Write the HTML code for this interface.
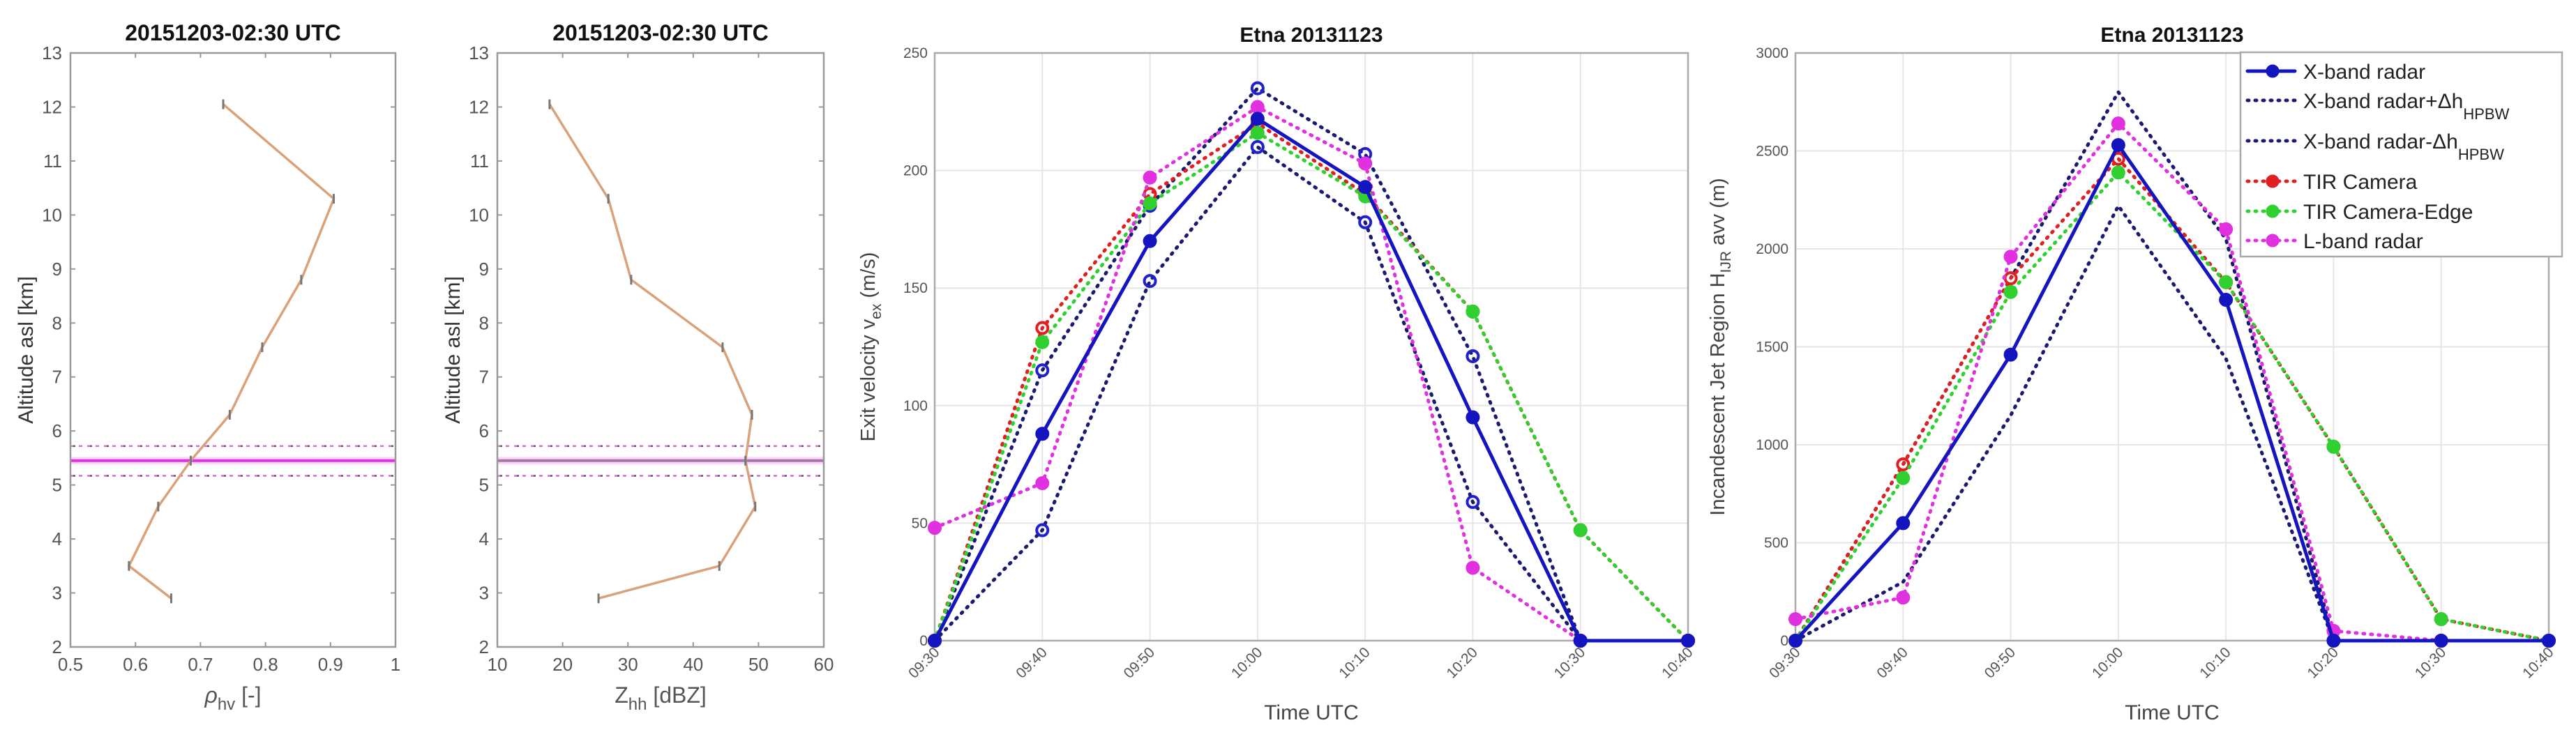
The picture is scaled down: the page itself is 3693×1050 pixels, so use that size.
<!DOCTYPE html>
<html><head><meta charset="utf-8"><style>
html,body{margin:0;padding:0;background:#fff;}
svg{display:block;font-family:"Liberation Sans",sans-serif;}
</style></head><body>
<svg id="fig" width="3693" height="1050" viewBox="0 0 3693 1050" xmlns="http://www.w3.org/2000/svg"></svg>
<script>
// Panel 1 & 2 profile data
const altitudes = [12.05, 10.3, 8.8, 7.55, 6.3, 5.45, 4.6, 3.5, 2.9];
const rhoValues = [0.735, 0.905, 0.855, 0.795, 0.745, 0.685, 0.635, 0.59, 0.655];
const zhhValues = [18, 27, 30.5, 44.5, 49, 48, 49.5, 44, 25.5];
const meltLayer = [5.45, 5.72, 5.17];
const altTicks = [2,3,4,5,6,7,8,9,10,11,12,13];
const rhoTicks = [0.5,0.6,0.7,0.8,0.9,1];
const rhoTickLabels = ["0.5","0.6","0.7","0.8","0.9","1"];
const zhhTicks = [10,20,30,40,50,60];
// Panel 3 & 4 time series
const timeLabels = ["09:30","09:40","09:50","10:00","10:10","10:20","10:30","10:40"];
const velXband = [0, 88, 170, 222, 193, 95, 0, 0];
const velXplus = [0, 115, 185, 235, 207, 121, 0, 0];
const velXminus = [0, 47, 153, 210, 178, 59, 0, 0];
const velTIR = [0, 133, 190, 220, 190, 140, 47, 0];
const velTIREdge = [0, 127, 186, 216, 189, 140, 47, 0];
const velLband = [48, 67, 197, 227, 203, 31, 0, 0];
const velTicks = [0,50,100,150,200,250];
const hXband = [0, 600, 1460, 2530, 1740, 0, 0, 0];
const hXplus = [0, 900, 1850, 2800, 2050, 0, 0, 0];
const hXminus = [0, 300, 1150, 2220, 1440, 0, 0, 0];
const hTIR = [0, 900, 1850, 2460, 1830, 990, 110, 0];
const hTIREdge = [0, 830, 1780, 2390, 1830, 990, 110, 0];
const hLband = [110, 220, 1960, 2640, 2100, 50, 0, 0];
const hTicks = [0,500,1000,1500,2000,2500,3000];

const NS = "http://www.w3.org/2000/svg";
const svg = document.getElementById('fig');
function mk(tag, attrs, parent, text){
  const e = document.createElementNS(NS, tag);
  for (const k in attrs) e.setAttribute(k, attrs[k]);
  if (text !== undefined) e.textContent = text;
  (parent || svg).appendChild(e);
  return e;
}
function lin(d0,d1,r0,r1){ return v => r0 + (v-d0)/(d1-d0)*(r1-r0); }

// ---------- Profile panels ----------
function profilePanel(name, x0, x1, dmin, dmax, ticks, tickLabels, vals, title, xlabelMain, xlabelSub, xlabelRest, meltColor){
  const g = mk('g', {});
  
  
  const yT = 76, yB = 928;
  const sx = lin(dmin, dmax, x0, x1);
  const sy = lin(2, 13, yB, yT);
  // melting layer lines
  const band = mk('rect', {x:x0, y:sy(meltLayer[0]+0.07), width:x1-x0, height:sy(meltLayer[0]-0.07)-sy(meltLayer[0]+0.07), fill:'#f9c8f5', opacity:0.7}, g);
  
  
  const ml = mk('line', {x1:x0, x2:x1, y1:sy(meltLayer[0]), y2:sy(meltLayer[0]), stroke:meltColor, 'stroke-width':4}, g);
  
  
  for (let i=1;i<meltLayer.length;i++){
    const d = mk('line', {x1:x0, x2:x1, y1:sy(meltLayer[i]), y2:sy(meltLayer[i]), stroke:'#d070d0', 'stroke-width':2.5, 'stroke-dasharray':'5 7'}, g);
    
    
    mk('line', {x1:x0+4, x2:x1, y1:sy(meltLayer[i]), y2:sy(meltLayer[i]), stroke:'#705070', 'stroke-width':2.5, 'stroke-dasharray':'3 21'}, g);
  }
  // profile
  let dstr = '';
  vals.forEach((v,i)=>{ dstr += (i?'L':'M') + sx(v).toFixed(1) + ' ' + sy(altitudes[i]).toFixed(1); });
  const p = mk('path', {d:dstr, fill:'none', stroke:'#d9a27a', 'stroke-width':3.5}, g);
  
  
  vals.forEach((v,i)=>{
    const t = mk('line', {x1:sx(v), x2:sx(v), y1:sy(altitudes[i])-7, y2:sy(altitudes[i])+7, stroke:'#777', 'stroke-width':3}, g);
    
    
  });
  // box
  const box = mk('rect', {x:x0, y:yT, width:x1-x0, height:yB-yT, fill:'none', stroke:'#999', 'stroke-width':2.5}, g);
  
  
  altTicks.forEach(a=>{
    mk('line', {x1:x0, x2:x0+7, y1:sy(a), y2:sy(a), stroke:'#999', 'stroke-width':2}, g);
    mk('line', {x1:x1, x2:x1-7, y1:sy(a), y2:sy(a), stroke:'#999', 'stroke-width':2}, g);
    const l = mk('text', {x:x0-12, y:sy(a)+9, 'text-anchor':'end', 'font-size':26, fill:'#555'}, g, String(a));
    
    
  });
  ticks.forEach((t,i)=>{
    mk('line', {x1:sx(t), x2:sx(t), y1:yB, y2:yB-7, stroke:'#999', 'stroke-width':2}, g);
    mk('line', {x1:sx(t), x2:sx(t), y1:yT, y2:yT+7, stroke:'#999', 'stroke-width':2}, g);
    const l = mk('text', {x:sx(t), y:962, 'text-anchor':'middle', 'font-size':26, fill:'#555'}, g, tickLabels[i]);
    
    
  });
  const ti = mk('text', {x:(x0+x1)/2, y:58, 'text-anchor':'middle', 'font-size':32, 'font-weight':'bold', fill:'#111'}, g, title);
  
  
  const yl = mk('text', {x:0, y:0, transform:`translate(${x0-54},${(yT+yB)/2}) rotate(-90)`, 'text-anchor':'middle', 'font-size':30, fill:'#333'}, g, 'Altitude asl [km]');
  
  
  const xl = mk('text', {x:(x0+x1)/2, y:1008, 'text-anchor':'middle', 'font-size':32, fill:'#555'}, g);
  
  
  mk('tspan', {'font-style': xlabelMain==='ρ'?'italic':'normal'}, xl, xlabelMain);
  mk('tspan', {'font-size':24, dy:10}, xl, xlabelSub);
  mk('tspan', {dy:-10}, xl, xlabelRest);
}
profilePanel('rhohv-profile-panel', 101, 567, 0.5, 1.0, rhoTicks, rhoTickLabels, rhoValues, '20151203-02:30 UTC', 'ρ', 'hv', ' [-]', '#e030e0');
profilePanel('zhh-profile-panel', 713, 1181, 10, 60, zhhTicks, zhhTicks.map(String), zhhValues, '20151203-02:30 UTC', 'Z', 'hh', ' [dBZ]', '#a878a8');

// ---------- Time series panels ----------
const styles = {
  xband:{color:'#1515c0', dash:null, width:5, fill:'#1515c0', r:8},
  xplus:{color:'#1a1a70', dash:'2 9', width:5, fill:'none', r:8, stroke2:'#2020d0'},
  xminus:{color:'#1a1a70', dash:'2 9', width:5, fill:'none', r:8, stroke2:'#2020d0'},
  tir:{color:'#e02020', dash:'2 9', width:5, fill:'none', r:8, stroke2:'#e02020'},
  edge:{color:'#30d030', dash:'2 9', width:5, fill:'#30d030', r:8},
  lband:{color:'#e030e0', dash:'2 9', width:5, fill:'#e030e0', r:8}
};
function tsPanel(name, x0, x1, ymax, ticks, series, ylabelParts, drawMarkersOnX){
  const g = mk('g', {});
  
  
  const yT = 76, yB = 919;
  const sx = lin(0, timeLabels.length-1, x0, x1);
  const sy = lin(0, ymax, yB, yT);
  mk('rect', {x:x0, y:yT, width:x1-x0, height:yB-yT, fill:'#fff'}, g);
  ticks.forEach(t=>{
    const gl = mk('line', {x1:x0, x2:x1, y1:sy(t), y2:sy(t), stroke:'#e6e6e6', 'stroke-width':2}, g);
    
    
    const l = mk('text', {x:x0-10, y:sy(t)+7, 'text-anchor':'end', 'font-size':21, fill:'#555'}, g, String(t));
    
    
  });
  timeLabels.forEach((t,i)=>{
    const gl = mk('line', {x1:sx(i), x2:sx(i), y1:yT, y2:yB, stroke:'#e6e6e6', 'stroke-width':2}, g);
    
    
    const l = mk('text', {x:0, y:0, transform:`translate(${sx(i)+8},${yB+18}) rotate(-45)`, 'text-anchor':'end', 'font-size':21, fill:'#555'}, g, t);
    
    
  });
  const box = mk('rect', {x:x0, y:yT, width:x1-x0, height:yB-yT, fill:'none', stroke:'#aaa', 'stroke-width':2.5}, g);
  
  
  series.forEach(s=>{
    const st = styles[s.key];
    let d = '';
    s.values.forEach((v,i)=>{ d += (i?'L':'M') + sx(i).toFixed(1) + ' ' + sy(v).toFixed(1); });
    const attrs = {d:d, fill:'none', stroke:st.color, 'stroke-width':st.width, 'stroke-linecap':'round', 'stroke-linejoin':'round'};
    if (st.dash) attrs['stroke-dasharray'] = st.dash;
    const p = mk('path', attrs, g);
    
    
    if (s.markers) s.values.forEach((v,i)=>{
      const c = mk('circle', {cx:sx(i), cy:sy(v), r:st.r, fill:st.fill, stroke:st.stroke2||st.color, 'stroke-width':4}, g);
      
      
    });
  });
  const ti = mk('text', {x:(x0+x1)/2, y:60, 'text-anchor':'middle', 'font-size':30, 'font-weight':'bold', fill:'#111'}, g, 'Etna 20131123');
  
  
  const xl = mk('text', {x:(x0+x1)/2, y:1032, 'text-anchor':'middle', 'font-size':30, fill:'#444'}, g, 'Time UTC');
  
  
  const yl = mk('text', {x:0, y:0, transform:`translate(${ylabelParts.x},${(yT+yB)/2}) rotate(-90)`, 'text-anchor':'middle', 'font-size':29, fill:'#444'}, g);
  
  
  mk('tspan', {}, yl, ylabelParts.a);
  mk('tspan', {'font-size':21, dy:9}, yl, ylabelParts.sub);
  mk('tspan', {dy:-9}, yl, ylabelParts.b);
  return g;
}
tsPanel('velocity-panel', 1340, 2420, 250, velTicks, [
  {key:'xplus', values:velXplus, markers:true},
  {key:'xminus', values:velXminus, markers:true},
  {key:'tir', values:velTIR, markers:true},
  {key:'edge', values:velTIREdge, markers:true},
  {key:'lband', values:velLband, markers:true},
  {key:'xband', values:velXband, markers:true}
], {x:1254, a:'Exit velocity v', sub:'ex', b:'  (m/s)'});
const p4 = tsPanel('height-panel', 2574, 3654, 3000, hTicks, [
  {key:'xplus', values:hXplus, markers:false},
  {key:'xminus', values:hXminus, markers:false},
  {key:'tir', values:hTIR, markers:true},
  {key:'edge', values:hTIREdge, markers:true},
  {key:'lband', values:hLband, markers:true},
  {key:'xband', values:hXband, markers:true}
], {x:2472, a:'Incandescent Jet Region H', sub:'IJR', b:' avv (m)'});

// Legend
const leg = mk('g', {}, p4);


mk('rect', {x:3212, y:75, width:461, height:293, fill:'#fff', stroke:'#aaa', 'stroke-width':2.5}, leg);
const legendEntries = [
  {key:'xband', y:102, label:'X-band radar', marker:true},
  {key:'xplus', y:144, label:'X-band radar+Δh', sub:'HPBW', marker:false},
  {key:'xminus', y:202, label:'X-band radar-Δh', sub:'HPBW', marker:false},
  {key:'tir', y:260, label:'TIR Camera', marker:true},
  {key:'edge', y:303, label:'TIR Camera-Edge', marker:true},
  {key:'lband', y:345, label:'L-band radar', marker:true}
];
legendEntries.forEach(e=>{
  const st = styles[e.key];
  const eg = mk('g', {}, leg);
  
  
  const la = {x1:3222, x2:3290, y1:e.y, y2:e.y, stroke:st.color, 'stroke-width':st.width, 'stroke-linecap':'round'};
  if (st.dash) la['stroke-dasharray'] = st.dash;
  mk('line', la, eg);
  if (e.marker) mk('circle', {cx:3258, cy:e.y, r:st.r, fill:e.key==='tir'?'#e02020':st.fill, stroke:st.stroke2||st.color, 'stroke-width':3}, eg);
  const t = mk('text', {x:3302, y:e.y+11, 'font-size':30, fill:'#222'}, eg);
  mk('tspan', {}, t, e.label);
  if (e.sub) mk('tspan', {'font-size':22, dy:16}, t, e.sub);
});
</script>
</body></html>
